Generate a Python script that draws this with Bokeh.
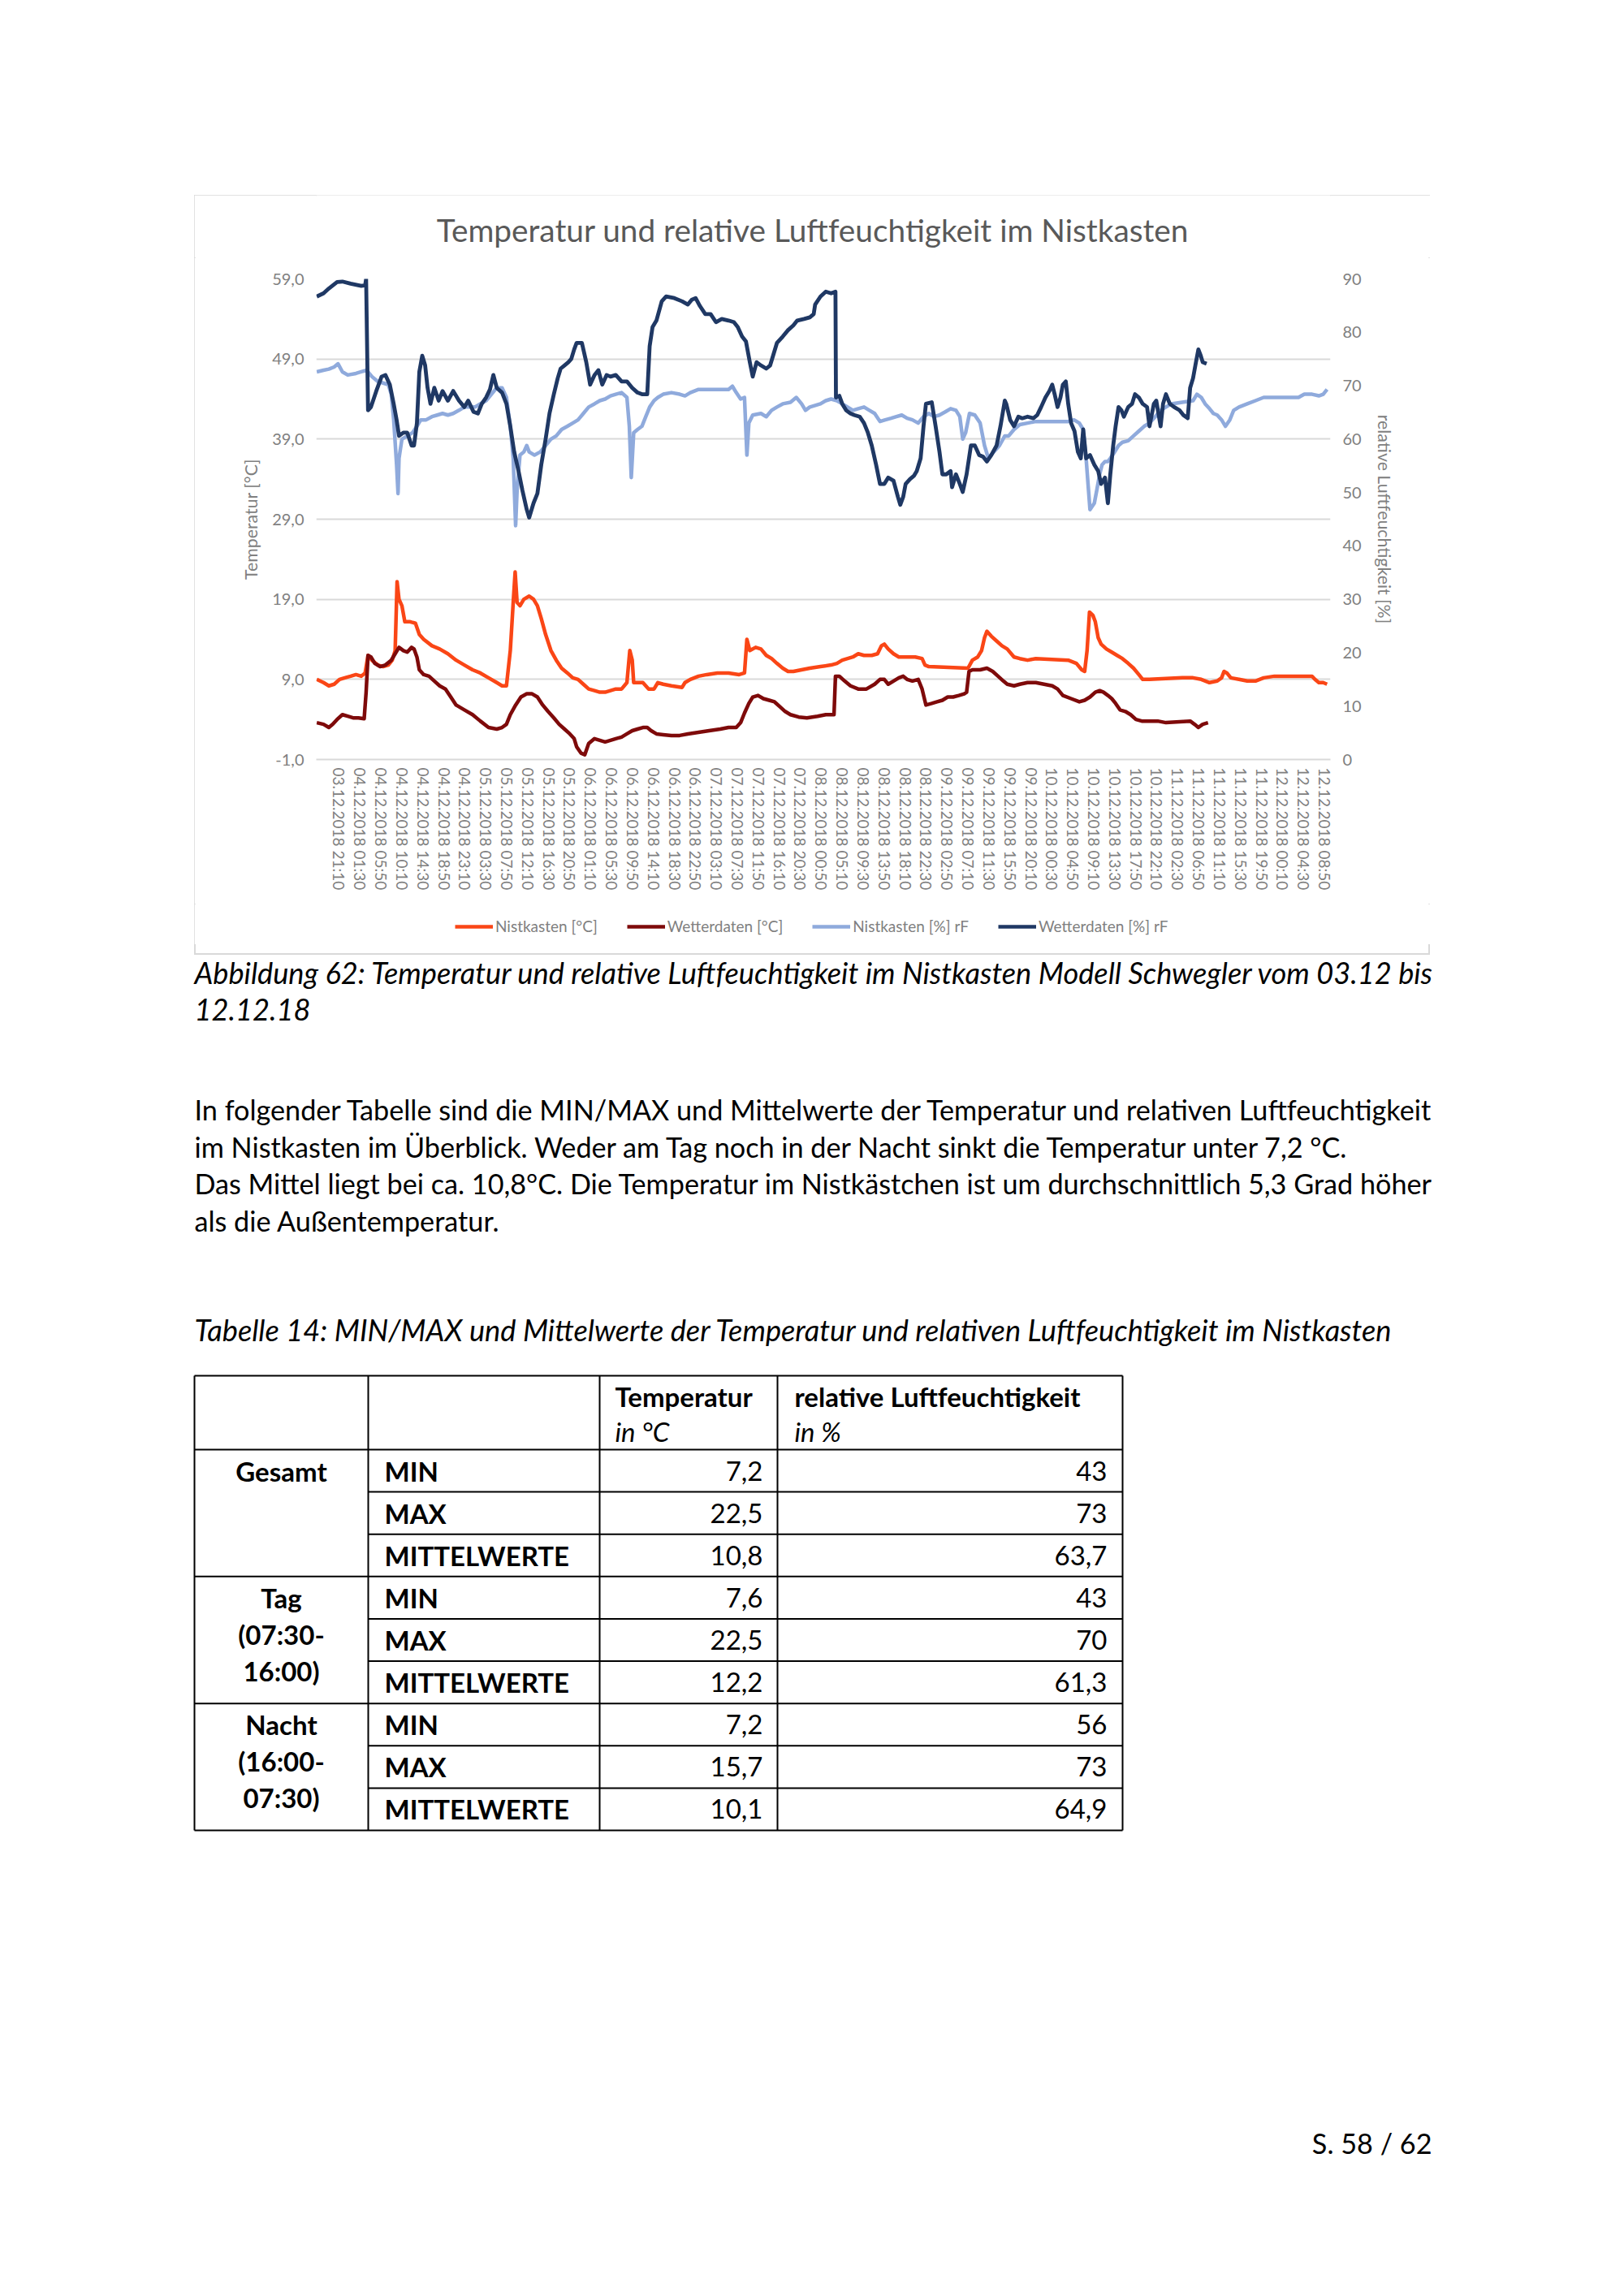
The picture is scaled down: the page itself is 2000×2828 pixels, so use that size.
import math
from datetime import datetime
from bokeh.plotting import figure
from bokeh.models import Range1d, LinearAxis, FixedTicker, Legend, LegendItem, Spacer
from bokeh.layouts import column, row
from bokeh.embed import file_html
from bokeh.resources import INLINE
from bokeh.core.properties import value

# ---------------- DATA ----------------
START = datetime(2018, 12, 3, 0, 0)   # time values below: hours since 03.12.2018 00:00

TICK_LABELS = [
    "03.12.2018 21:10", "04.12.2018 01:30", "04.12.2018 05:50", "04.12.2018 10:10", "04.12.2018 14:30",
    "04.12.2018 18:50", "04.12.2018 23:10", "05.12.2018 03:30", "05.12.2018 07:50", "05.12.2018 12:10",
    "05.12.2018 16:30", "05.12.2018 20:50", "06.12.2018 01:10", "06.12.2018 05:30", "06.12.2018 09:50",
    "06.12.2018 14:10", "06.12.2018 18:30", "06.12.2018 22:50", "07.12.2018 03:10", "07.12.2018 07:30",
    "07.12.2018 11:50", "07.12.2018 16:10", "07.12.2018 20:30", "08.12.2018 00:50", "08.12.2018 05:10",
    "08.12.2018 09:30", "08.12.2018 13:50", "08.12.2018 18:10", "08.12.2018 22:30", "09.12.2018 02:50",
    "09.12.2018 07:10", "09.12.2018 11:30", "09.12.2018 15:50", "09.12.2018 20:10", "10.12.2018 00:30",
    "10.12.2018 04:50", "10.12.2018 09:10", "10.12.2018 13:30", "10.12.2018 17:50", "10.12.2018 22:10",
    "11.12.2018 02:30", "11.12.2018 06:50", "11.12.2018 11:10", "11.12.2018 15:30", "11.12.2018 19:50",
    "12.12.2018 00:10", "12.12.2018 04:30", "12.12.2018 08:50",
]
TEMP_TICKS = [-1, 9, 19, 29, 39, 49, 59]
RH_TICKS = [0, 10, 20, 30, 40, 50, 60, 70, 80, 90]

NIST_T = [  # Nistkasten [°C]
    [16.5, 9.0], [17.9, 8.6], [19.0, 8.2], [20.1, 8.4], [21.2, 9.0], [22.3, 9.2], [23.5, 9.4], [24.6, 9.6],
    [25.7, 9.4], [26.5, 9.8], [27.1, 12.0], [27.9, 11.4], [29.1, 10.8], [30.2, 10.6], [31.3, 10.8], [32.1, 11.4],
    [32.7, 12.6], [33.1, 21.2], [33.5, 19.0], [34.1, 18.2], [34.7, 16.2], [35.8, 16.2], [36.9, 16.0], [37.7, 14.6],
    [38.6, 14.0], [40.3, 13.2], [41.9, 12.8], [43.6, 12.2], [45.3, 11.4], [47.0, 10.8], [48.7, 10.2], [50.3, 9.8],
    [52.0, 9.2], [53.7, 8.6], [54.8, 8.2], [55.7, 8.2], [56.5, 12.6], [57.1, 18.6], [57.5, 22.4], [57.9, 18.6],
    [58.5, 18.2], [59.3, 19.0], [60.4, 19.4], [61.3, 19.0], [62.1, 18.2], [62.9, 16.6], [63.8, 14.6], [64.9, 12.6],
    [66.0, 11.4], [67.1, 10.4], [68.3, 9.8], [69.4, 9.2], [70.5, 9.0], [71.6, 8.4], [72.7, 7.8], [73.9, 7.6],
    [75.0, 7.4], [76.1, 7.4], [77.2, 7.6], [78.3, 7.8], [79.5, 7.8], [80.6, 8.6], [81.2, 12.6], [81.7, 11.4],
    [82.0, 8.6], [83.9, 8.6], [85.1, 7.8], [86.2, 7.8], [87.0, 8.6],
    [88.1, 8.4], [89.8, 8.2], [92.0, 8.0], [92.6, 8.6], [93.7, 9.0], [95.4, 9.4], [97.1, 9.6], [99.3, 9.8],
    [101.6, 9.8], [103.8, 9.6], [104.9, 9.8], [105.4, 14.0], [106.0, 12.6], [107.2, 13.0], [108.3, 12.8],
    [109.4, 12.0], [110.5, 11.6], [111.6, 11.0], [112.8, 10.4], [113.9, 10.0], [115.0, 10.0], [116.7, 10.2],
    [118.4, 10.4], [120.6, 10.6], [122.8, 10.8], [124.0, 11.0], [125.1, 11.4], [126.2, 11.6], [127.3, 11.8],
    [128.4, 12.2], [129.6, 12.0], [131.2, 12.0], [132.4, 12.2], [133.2, 13.2], [133.8, 13.4], [134.6, 12.8],
    [135.7, 12.2], [136.8, 11.8], [140.2, 11.8], [141.6, 11.6], [142.2, 10.8], [143.0, 10.6], [151.1, 10.4],
    [152.0, 11.4], [153.1, 11.8], [153.9, 12.6], [154.5, 14.2], [155.0, 15.0], [155.9, 14.4], [157.0, 13.8],
    [158.1, 13.2], [159.2, 12.8],
    [160.6, 11.8], [161.8, 11.6], [163.4, 11.4], [165.1, 11.6], [171.8, 11.4], [173.5, 11.0], [174.6, 10.2],
    [175.2, 10.0], [175.7, 12.6], [176.2, 17.4], [176.9, 17.0], [177.4, 16.2], [178.0, 14.2], [178.6, 13.4],
    [179.7, 12.8], [180.8, 12.4], [181.9, 12.0], [183.0, 11.6], [184.2, 11.0], [185.3, 10.4], [186.4, 9.6],
    [187.2, 9.0], [188.6, 9.0], [195.4, 9.2], [197.6, 9.2], [199.3, 9.0], [201.0, 8.6], [202.6, 8.8],
    [203.5, 9.2], [204.0, 10.0], [204.6, 9.8], [205.4, 9.2], [207.1, 9.0], [208.8, 8.8], [210.5, 8.8],
    [212.2, 9.2], [214.4, 9.4], [222.2, 9.4], [222.8, 9.0], [223.6, 8.6], [224.5, 8.6], [225.3, 8.4],
]

WETTER_T = [  # Wetterdaten [°C]
    [16.5, 3.6], [17.9, 3.4], [19.0, 3.0], [19.8, 3.4], [20.7, 4.0], [21.8, 4.6], [22.9, 4.4], [24.0, 4.2],
    [25.1, 4.2], [26.3, 4.1], [26.7, 7.4], [27.1, 12.0], [27.7, 11.8], [28.5, 11.0], [29.6, 10.6], [30.7, 10.8],
    [31.9, 11.4], [32.7, 12.2], [33.5, 13.0], [34.4, 12.6], [35.2, 12.4], [36.1, 13.0], [36.6, 12.8], [37.2, 11.8],
    [37.7, 10.2], [38.6, 9.6], [39.7, 9.4], [40.8, 8.8], [41.9, 8.2], [43.1, 7.8], [44.2, 6.8], [45.3, 5.8],
    [47.0, 5.2], [48.7, 4.6], [50.3, 3.8], [52.0, 3.0], [53.7, 2.8], [54.8, 3.0], [55.7, 3.4], [56.5, 4.6],
    [57.6, 5.8], [58.7, 6.8], [59.9, 7.2], [61.0, 7.2], [62.1, 6.8], [63.2, 5.8], [64.3, 5.0], [65.5, 4.2],
    [66.6, 3.4], [67.7, 2.8], [68.8, 2.2], [69.7, 1.6], [70.2, 0.6], [71.1, -0.2], [71.9, -0.4], [72.7, 1.0],
    [73.9, 1.6], [75.0, 1.4], [76.1, 1.2], [77.2, 1.4], [78.3, 1.6], [79.5, 1.8], [80.6, 2.2], [81.7, 2.6],
    [82.8, 2.8], [83.9, 3.0], [84.8, 3.0], [85.6, 2.6], [86.7, 2.2],
    [88.1, 2.1], [89.8, 2.0], [91.5, 2.0], [93.2, 2.2], [95.4, 2.4], [97.6, 2.6], [99.9, 2.8], [101.6, 3.0],
    [103.2, 3.0], [104.1, 3.6], [104.9, 4.8], [105.8, 6.0], [106.6, 6.8], [107.7, 7.0], [108.8, 6.6],
    [110.0, 6.4], [111.1, 6.2], [112.2, 5.6], [113.3, 5.0], [114.4, 4.6], [116.1, 4.3], [117.8, 4.2],
    [120.0, 4.4], [121.7, 4.6], [123.4, 4.6], [123.7, 9.4], [124.5, 9.4], [125.6, 8.8], [126.8, 8.2],
    [128.4, 7.8], [130.1, 7.8], [131.8, 8.4], [132.9, 9.0], [133.8, 9.0], [134.6, 8.4], [135.7, 8.8],
    [136.8, 9.2], [137.7, 9.4], [138.5, 9.0], [139.6, 8.8], [140.8, 9.0], [141.6, 7.8], [142.4, 5.8],
    [143.6, 6.0], [144.7, 6.2], [145.8, 6.4], [146.9, 6.8], [148.0, 6.8], [149.2, 7.0], [150.3, 7.2],
    [150.8, 7.4], [151.3, 10.0], [152.0, 10.2], [153.6, 10.2], [155.0, 10.4], [156.2, 10.0], [157.3, 9.4],
    [158.4, 8.8], [159.2, 8.4],
    [160.6, 8.2], [161.8, 8.4], [163.4, 8.6], [165.1, 8.6], [166.8, 8.4], [168.5, 8.2], [169.6, 7.8],
    [170.7, 7.0], [172.4, 6.6], [174.1, 6.2], [175.2, 6.4], [176.3, 6.8], [177.4, 7.4], [178.3, 7.6],
    [179.1, 7.4], [180.0, 7.0], [180.8, 6.6], [181.6, 6.0], [182.5, 5.2], [183.6, 5.0], [184.7, 4.6],
    [185.8, 4.0], [187.0, 3.8], [190.3, 3.8], [192.0, 3.6], [197.0, 3.8], [197.9, 3.4], [198.7, 3.0],
    [199.6, 3.4], [200.7, 3.6],
]

NIST_RH = [  # Nistkasten [%] rF
    [16.5, 72.6], [17.9, 72.9], [19.0, 73.1], [20.1, 73.5], [20.9, 74.1], [21.8, 72.6], [22.9, 72.0], [24.6, 72.3],
    [25.7, 72.6], [26.8, 72.9], [27.9, 71.7], [29.1, 70.8], [30.2, 70.5], [31.3, 70.2], [31.9, 68.4], [32.4, 63.6],
    [33.0, 55.2], [33.3, 49.8], [33.5, 56.4], [34.1, 60.0], [35.2, 60.6], [36.3, 61.2], [37.2, 62.4], [38.0, 63.6],
    [39.1, 63.6], [40.3, 64.2], [41.4, 64.5], [42.5, 64.8], [43.6, 64.5], [44.7, 64.8], [45.9, 65.4], [47.0, 66.0],
    [49.2, 66.0], [50.3, 66.6], [51.5, 67.2], [52.6, 68.4], [53.7, 69.6], [54.8, 69.6], [55.7, 67.8], [56.5, 62.4],
    [57.1, 56.4], [57.6, 43.8], [57.9, 50.4], [58.5, 57.0], [59.3, 57.6], [59.9, 58.8], [60.4, 57.6], [61.5, 57.0],
    [62.7, 57.6], [63.8, 58.8], [64.9, 60.0], [66.0, 60.6], [67.1, 61.8], [68.3, 62.4], [69.4, 63.0], [70.5, 63.6],
    [71.6, 64.8], [72.7, 66.0], [73.9, 66.6], [75.0, 67.2], [76.1, 67.5], [77.2, 68.1], [78.3, 68.4], [79.5, 68.7],
    [80.6, 67.8], [81.1, 62.4], [81.5, 52.8], [82.0, 61.2], [82.8, 61.8], [83.7, 62.4], [84.5, 64.2], [85.3, 66.0],
    [86.2, 67.2],
    [87.0, 67.8], [88.1, 68.4], [89.8, 68.7], [91.5, 68.4], [92.6, 68.1], [93.7, 68.7], [95.4, 69.3], [101.6, 69.3],
    [102.4, 69.9], [103.2, 68.7], [104.1, 67.5], [104.9, 67.8], [105.4, 57.0], [105.8, 63.0], [106.6, 64.5],
    [108.3, 64.8], [109.4, 64.2], [110.5, 65.4], [111.6, 66.0], [112.8, 66.6], [114.4, 66.9], [115.6, 67.8],
    [116.7, 66.6], [117.5, 65.4], [118.4, 66.0], [119.5, 66.3], [120.6, 66.6], [121.7, 67.2], [122.8, 67.5],
    [124.0, 67.2], [125.1, 66.6], [126.2, 66.0], [127.3, 65.4], [128.4, 65.7], [129.6, 66.0], [130.7, 65.4],
    [131.8, 64.8], [132.9, 63.3], [134.0, 63.6], [135.2, 63.9], [136.3, 64.2], [137.4, 64.5], [138.5, 63.9],
    [139.6, 63.6], [140.8, 63.0], [141.9, 64.2], [143.0, 64.8], [144.1, 64.2], [145.2, 64.5], [146.4, 65.1],
    [147.5, 65.7], [148.6, 65.4], [149.4, 64.2], [150.0, 60.0], [150.6, 61.2], [151.4, 64.8], [152.5, 64.5],
    [153.6, 63.0], [154.5, 58.8], [155.3, 56.4], [156.4, 57.6], [157.6, 58.8], [158.7, 60.6],
    [159.5, 60.6], [160.6, 61.8], [161.8, 62.7], [163.4, 63.0], [165.1, 63.3], [171.8, 63.3], [173.0, 63.6],
    [174.1, 63.0], [174.9, 61.8], [175.5, 56.4], [176.0, 50.4], [176.3, 46.8], [177.2, 48.0], [177.7, 50.4],
    [178.3, 53.4], [178.8, 55.2], [179.4, 55.8], [180.0, 55.8], [180.5, 56.4], [181.4, 57.6], [182.2, 58.8],
    [183.0, 59.4], [184.2, 59.7], [185.3, 60.6], [186.4, 61.5], [187.5, 62.4], [188.6, 63.0], [189.8, 64.2],
    [190.9, 65.4], [192.0, 66.0], [193.1, 66.6], [197.6, 67.2], [198.4, 68.4], [199.3, 67.8], [200.1, 66.6],
    [201.0, 65.7], [201.8, 64.8], [202.6, 64.5], [203.5, 63.6], [204.3, 62.4], [205.2, 63.6], [206.0, 65.4],
    [207.1, 66.0], [208.8, 66.6], [210.5, 67.2], [212.2, 67.8], [219.4, 67.8], [220.6, 68.4], [222.2, 68.4],
    [223.6, 68.1], [224.5, 68.4], [225.3, 69.3],
]

WETTER_RH = [  # Wetterdaten [%] rF
    [16.5, 86.7], [17.9, 87.3], [19.0, 88.2], [20.7, 89.4], [21.8, 89.5], [23.5, 89.1], [25.7, 88.7], [26.5, 88.8],
    [26.7, 90.0], [27.1, 65.4], [27.7, 66.0], [28.8, 69.0], [29.9, 71.7], [30.7, 72.0], [31.6, 70.2], [32.4, 66.6],
    [33.0, 63.6], [33.5, 60.6], [34.4, 61.2], [35.2, 61.2], [36.1, 58.8], [36.6, 58.8], [37.2, 63.0], [37.7, 72.6],
    [38.3, 75.6], [38.9, 73.8], [39.4, 69.6], [40.0, 66.6], [40.8, 69.6], [41.7, 67.2], [42.5, 69.0], [43.6, 67.2],
    [44.7, 69.0], [45.9, 67.2], [47.0, 66.0], [47.8, 67.2], [48.9, 65.1], [49.8, 64.8], [50.6, 66.6], [51.5, 67.8],
    [52.3, 69.3], [53.0, 72.0], [53.7, 69.6], [54.8, 68.7], [55.7, 66.6], [56.5, 62.4], [57.3, 57.6], [58.2, 54.0],
    [59.0, 50.4], [59.9, 46.8], [60.4, 45.3], [61.3, 48.0], [62.1, 49.8], [62.9, 55.2], [63.8, 60.0], [64.6, 64.8],
    [65.5, 68.4], [66.3, 71.4], [66.9, 73.2], [67.7, 73.8], [68.5, 74.4], [69.1, 75.0], [69.7, 76.8], [70.2, 78.0],
    [71.3, 78.0], [72.2, 74.4], [73.0, 70.2], [73.9, 72.0], [74.7, 72.9], [75.5, 70.2], [76.4, 72.0], [77.2, 71.7],
    [78.3, 72.0], [79.5, 70.8], [80.6, 70.8], [81.7, 69.6], [82.8, 68.7], [83.7, 68.4], [84.8, 68.4], [85.3, 77.4],
    [85.9, 81.0], [86.7, 82.2],
    [87.8, 85.8], [88.7, 86.7], [90.4, 86.4], [92.0, 85.8], [93.2, 85.2], [94.0, 86.1], [94.8, 86.4], [95.7, 84.9],
    [96.8, 83.4], [97.9, 83.4], [99.0, 81.9], [100.2, 82.5], [101.6, 82.2], [102.7, 81.9], [103.5, 81.0],
    [104.4, 79.2], [105.2, 78.3], [106.0, 74.4], [106.6, 71.7], [107.4, 74.4], [108.3, 73.8], [109.4, 73.2],
    [110.2, 73.8], [110.8, 75.6], [111.6, 78.0], [112.8, 79.2], [113.9, 80.4], [115.0, 81.3], [115.8, 82.2],
    [117.2, 82.5], [118.4, 82.8], [119.2, 83.4], [119.5, 85.2], [120.6, 86.7], [121.7, 87.6], [122.8, 87.3],
    [123.7, 87.6], [123.8, 67.8], [124.5, 68.1], [125.1, 66.6], [125.9, 65.4], [126.8, 64.8], [127.6, 64.5],
    [128.7, 64.2], [129.6, 63.0], [130.4, 61.2], [131.2, 58.8], [132.1, 55.2], [132.9, 51.6], [133.8, 51.6],
    [134.6, 52.8], [135.7, 52.2], [136.6, 49.2], [137.1, 47.7], [137.7, 49.2], [138.2, 51.6], [139.1, 52.5],
    [139.9, 53.1], [140.5, 54.0], [141.3, 56.4], [141.9, 62.4], [142.4, 66.6], [143.6, 66.9], [144.4, 62.4],
    [145.2, 57.6], [145.8, 53.4], [146.6, 53.4], [147.5, 54.0], [147.8, 51.0], [148.6, 53.4], [149.4, 51.6],
    [150.0, 50.1], [150.8, 53.4], [151.7, 58.8], [152.5, 58.8], [153.4, 57.0], [154.2, 56.7], [155.0, 55.8],
    [155.9, 57.0], [157.0, 58.8], [157.8, 62.4], [158.7, 67.2],
    [159.0, 66.6], [159.8, 63.6], [160.6, 62.4], [161.5, 64.2], [162.3, 63.9], [163.4, 64.2], [164.6, 63.9],
    [165.4, 64.5], [166.2, 66.0], [167.1, 67.8], [167.9, 69.0], [168.5, 70.2], [169.0, 68.4], [169.6, 66.0],
    [170.2, 67.8], [170.7, 70.2], [171.3, 70.8], [171.8, 66.6], [172.4, 63.0], [173.1, 61.5], [173.8, 57.6],
    [174.4, 56.4], [174.9, 61.8], [175.5, 56.4], [176.3, 57.0], [177.2, 55.2], [178.0, 54.0], [178.6, 51.6],
    [179.4, 52.8], [180.0, 48.0], [180.5, 53.4], [181.1, 58.8], [181.6, 62.4], [182.2, 66.0], [182.8, 65.4],
    [183.3, 64.2], [184.2, 66.0], [185.0, 66.6], [185.6, 68.4], [186.4, 67.8], [187.2, 66.6], [188.1, 66.0],
    [188.6, 62.4], [189.5, 66.6], [190.0, 67.2], [190.9, 62.4], [191.4, 66.6], [192.0, 68.4], [192.8, 66.6],
    [193.7, 66.0], [194.8, 65.4], [195.6, 64.5], [196.5, 63.9], [197.0, 69.6], [197.6, 71.4], [198.2, 74.4],
    [198.7, 76.8], [199.2, 75.6], [199.6, 74.4], [200.4, 74.1],
]

SERIES_NAMES = ["Nistkasten [°C]", "Wetterdaten [°C]", "Nistkasten [%] rF", "Wetterdaten [%] rF"]

TABLE_GROUPS = [["Gesamt"], ["Tag", "(07:30-", "16:00)"], ["Nacht", "(16:00-", "07:30)"]]
TABLE_STATS = ["MIN", "MAX", "MITTELWERTE"]
TABLE_TEMP = ["7,2", "22,5", "10,8", "7,6", "22,5", "12,2", "7,2", "15,7", "10,1"]
TABLE_RH = ["43", "73", "63,7", "43", "70", "61,3", "56", "73", "64,9"]

TITLE = "Temperatur und relative Luftfeuchtigkeit im Nistkasten"
CAPTION = ["Abbildung 62: Temperatur und relative Luftfeuchtigkeit im Nistkasten Modell Schwegler vom 03.12 bis",
           "12.12.18"]
PARAGRAPH = [
    "In folgender Tabelle sind die MIN/MAX und Mittelwerte der Temperatur und relativen Luftfeuchtigkeit",
    "im Nistkasten im Überblick. Weder am Tag noch in der Nacht sinkt die Temperatur unter 7,2 °C.",
    "Das Mittel liegt bei ca. 10,8°C. Die Temperatur im Nistkästchen ist um durchschnittlich 5,3 Grad höher",
    "als die Außentemperatur.",
]
TABLE_CAPTION = "Tabelle 14: MIN/MAX und Mittelwerte der Temperatur und relativen Luftfeuchtigkeit im Nistkasten"
PAGE_NO = "S. 58 / 62"

# ---------------- CHART ----------------
FONT = "Lato"
GRAY = "#808080"
COLORS = ["#FA4616", "#7E0A0A", "#8FAADC", "#1F3864"]
CHART_W, CHART_H = 1522, 936
HEAD_H, PLOT_H, LEG_H = 77, 796, 50
BORDER_L, BORDER_R = 150, 123
FRAME_W = CHART_W - BORDER_L - BORDER_R
FRAME_H = 592
PLOT_TOP = 26


def minutes(label):
    return int(round((datetime.strptime(label, "%d.%m.%Y %H:%M") - START).total_seconds() / 60))


tick_min = [minutes(l) for l in TICK_LABELS]


def xy(pairs):
    return [p[0] * 60 for p in pairs], [p[1] for p in pairs]


def blank(height, xr, yr):
    f = figure(width=CHART_W, height=height, x_range=xr, y_range=yr, output_backend="svg",
               toolbar_location=None, min_border=0, x_axis_type=None, y_axis_type=None,
               outline_line_color=None, background_fill_color="white", border_fill_color="white")
    f.grid.visible = False
    return f


# chart title strip (frames of the stacked figures are aligned with the plot frame)
head = blank(HEAD_H, Range1d(0, FRAME_W), Range1d(HEAD_H, 0))
head.text(x=[FRAME_W / 2 - 13], y=[42], text=[TITLE], text_font=value(FONT), text_font_size="38.8px",
          text_color="#595959", text_align="center", text_baseline="middle")

p = figure(width=CHART_W, height=PLOT_H, x_range=Range1d(16.4 * 60, 226.0 * 60), y_range=Range1d(-1, 59),
           output_backend="svg", toolbar_location=None,
           min_border_left=BORDER_L, min_border_right=BORDER_R, min_border_top=PLOT_TOP,
           min_border_bottom=PLOT_H - PLOT_TOP - FRAME_H,
           background_fill_color="white", border_fill_color="white", outline_line_color=None)
p.title.text_font_size = "1px"
p.title.standoff = 0

p.extra_y_ranges = {"rh": Range1d(0, 90)}

ya = p.yaxis[0]
ya.ticker = FixedTicker(ticks=TEMP_TICKS)
ya.major_label_overrides = {t: f"{t},0" for t in TEMP_TICKS}
ya.axis_label = "Temperatur [°C]"

ra = LinearAxis(y_range_name="rh", ticker=FixedTicker(ticks=RH_TICKS), axis_label="relative Luftfeuchtigkeit [%]")
p.add_layout(ra, "right")
if "axis_label_orientation" in ra.properties():
    ra.axis_label_orientation = "vertical"

for ax in (ya, ra):
    ax.axis_line_color = None
    ax.major_tick_line_color = None
    ax.minor_tick_line_color = None
    ax.major_tick_out = 0
    ax.major_label_text_font = FONT
    ax.major_label_text_font_size = "20px"
    ax.major_label_text_color = GRAY
    ax.axis_label_text_font = FONT
    ax.axis_label_text_font_size = "21.3px"
    ax.axis_label_text_font_style = "normal"
    ax.axis_label_text_color = GRAY
ya.major_label_standoff = 15
ya.axis_label_standoff = 10
ra.major_label_standoff = 15
ra.axis_label_standoff = 12

xa = p.xaxis[0]
xa.ticker = FixedTicker(ticks=tick_min)
xa.major_label_overrides = dict(zip(tick_min, TICK_LABELS))
xa.major_label_orientation = -math.pi / 2
xa.axis_line_color = "#d9d9d9"
xa.axis_line_width = 2
xa.major_tick_line_color = None
xa.minor_tick_line_color = None
xa.major_tick_out = 0
xa.major_label_standoff = 10
xa.major_label_text_font = FONT
xa.major_label_text_font_size = "19px"
xa.major_label_text_color = GRAY

p.xgrid.visible = False
p.ygrid.grid_line_color = "#d9d9d9"
p.ygrid.grid_line_width = 2

x1, y1 = xy(NIST_T)
x2, y2 = xy(WETTER_T)
x3, y3 = xy(NIST_RH)
x4, y4 = xy(WETTER_RH)
p.line(x1, y1, line_color=COLORS[0], line_width=4.5, line_join="round")
p.line(x2, y2, line_color=COLORS[1], line_width=4.5, line_join="round")
p.line(x3, y3, line_color=COLORS[2], line_width=4.5, line_join="round", y_range_name="rh")
p.line(x4, y4, line_color=COLORS[3], line_width=4.8, line_join="round", y_range_name="rh")

# legend strip: the same four series (outside this strip's ranges, so only their legend entries show)
leg = blank(LEG_H, Range1d(0, 1), Range1d(0, 1))
leg_renderers = [leg.line(xs, ys, line_color=c, line_width=4.5)
                 for (xs, ys), c in zip([(x1, y1), (x2, y2), (x3, y3), (x4, y4)], COLORS)]
legend = Legend(items=[LegendItem(label=n, renderers=[r]) for n, r in zip(SERIES_NAMES, leg_renderers)],
                orientation="horizontal", location=(171, 11),
                glyph_width=47, glyph_height=20, label_standoff=3, spacing=36,
                label_text_font=FONT, label_text_font_size="19px", label_text_color=GRAY,
                border_line_color=None, background_fill_alpha=0, margin=0, padding=4)
leg.add_layout(legend, "center")

chart_box = column(head, p, leg, Spacer(width=CHART_W, height=CHART_H - HEAD_H - PLOT_H - LEG_H),
                   styles={"outline": "2px solid #d9d9d9", "outline-offset": "-2px",
                           "background-color": "white"})

# ---------------- PAGE TEXT ----------------
PAGE_TOP = 240 + CHART_H
page = figure(width=1984, height=2812 - PAGE_TOP, x_range=Range1d(0, 1984), y_range=Range1d(2812, PAGE_TOP),
              output_backend="svg", toolbar_location=None, min_border=0,
              x_axis_type=None, y_axis_type=None, outline_line_color=None)
page.grid.visible = False

BODY = "Lato"
BODY_SIZE = 34.2
ITALIC_SIZE = 36.2
TAB_SIZE = 33


def txt(x, y, s, size=BODY_SIZE, style="normal", align="left"):
    page.text(x=[x], y=[y], text=[s], text_font=value(BODY), text_font_size=f"{size}px",
              text_font_style=style, text_align=align, text_baseline="middle", text_color="black")


LEFT = 239
for i, line in enumerate(CAPTION):
    txt(LEFT, 1197 + i * 46, line, ITALIC_SIZE, style="italic")
for i, line in enumerate(PARAGRAPH):
    txt(LEFT, 1366 + i * 45.5, line)
txt(LEFT, 1637, TABLE_CAPTION, ITALIC_SIZE, style="italic")
txt(1763, 2639, PAGE_NO, align="right")

# table
COLS = [239, 453, 738, 957, 1382]
TOP, HEAD_BOT, BOTTOM = 1694, 1785, 2254
ROW_H = (BOTTOM - HEAD_BOT) / 9
row_lines = [HEAD_BOT + ROW_H * k for k in range(10)]
page.segment(x0=[COLS[0]], y0=[TOP], x1=[COLS[-1]], y1=[TOP], line_color="black", line_width=2)
for k, yv in enumerate(row_lines):
    x0 = COLS[0] if k % 3 == 0 else COLS[1]
    page.segment(x0=[x0], y0=[yv], x1=[COLS[-1]], y1=[yv], line_color="black", line_width=2)
for xc in COLS:
    page.segment(x0=[xc], y0=[TOP], x1=[xc], y1=[BOTTOM], line_color="black", line_width=2)

txt(COLS[2] + 19, 1719, "Temperatur", TAB_SIZE, "bold")
txt(COLS[2] + 19, 1762, "in °C", TAB_SIZE, "italic")
txt(COLS[3] + 21, 1719, "relative Luftfeuchtigkeit", TAB_SIZE, "bold")
txt(COLS[3] + 21, 1762, "in %", TAB_SIZE, "italic")

for g, lines in enumerate(TABLE_GROUPS):
    first_center = row_lines[3 * g] + ROW_H / 2
    for j, s in enumerate(lines):
        txt((COLS[0] + COLS[1]) / 2, first_center + j * 45, s, TAB_SIZE, "bold", "center")
for k in range(9):
    yc = row_lines[k] + ROW_H / 2
    txt(COLS[1] + 20, yc, TABLE_STATS[k % 3], TAB_SIZE, "bold")
    txt(COLS[3] - 18, yc, TABLE_TEMP[k], TAB_SIZE, "normal", "right")
    txt(COLS[4] - 19, yc, TABLE_RH[k], TAB_SIZE, "normal", "right")

layout = column(Spacer(width=10, height=240),
                row(Spacer(width=239, height=CHART_H), chart_box),
                page)

open("out.html", "w").write(file_html(layout, INLINE))
